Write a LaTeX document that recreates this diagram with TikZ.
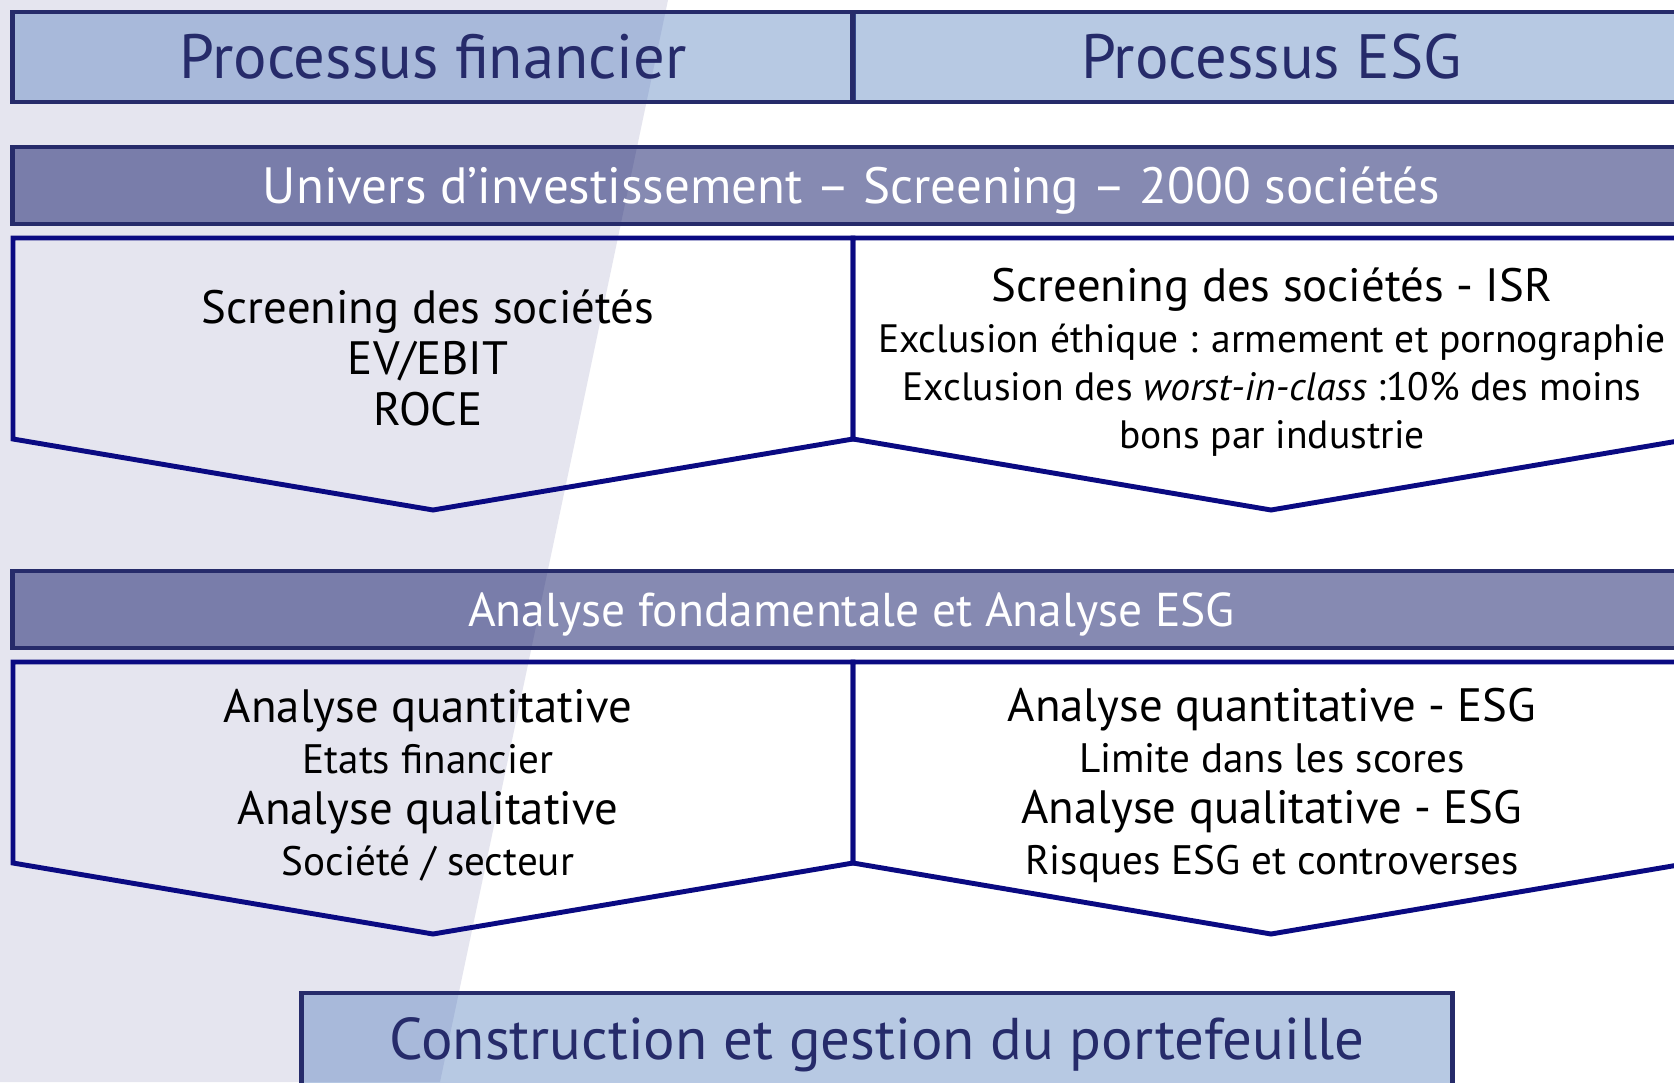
\documentclass[tikz,border=0pt]{standalone}
\usepackage{fontspec}
\setmainfont{PT Sans}

\definecolor{bandLavender}{HTML}{E5E5EF}
\definecolor{headFill}{HTML}{4D78BB}
\definecolor{barFill}{HTML}{0F1767}
\definecolor{headLine}{HTML}{262B6A}
\definecolor{chevLine}{HTML}{0A0A82}

\begin{document}
\begin{tikzpicture}
[x=0.01cm,y=-0.01cm,
  headDecorate/.style={shape=rectangle,inner sep=0pt,draw=headLine,line width=1.4pt,
    fill=headFill,fill opacity=0.4,text opacity=1,text=headLine,
    font=\fontsize{17.8}{20}\selectfont},%
  barDecorate/.style={shape=rectangle,inner sep=0pt,draw=headLine,line width=1.2pt,
    fill=barFill,fill opacity=0.5,text opacity=1,text=white,text depth=0pt},%
  chevDecorate/.style={draw=chevLine,line width=1.4pt,line join=miter},%
  textDecorate/.style={align=center,inner sep=0pt,text=black,
    font=\fontsize{13.3}{14.5}\selectfont},%
  smallText/.style={font=\fontsize{11.25}{13.6}\selectfont}]
\useasboundingbox (0,0) rectangle (1674,1082);
\clip (0,0) rectangle (1674,1082);
\fill[white] (0,0) rectangle (1674,1082);
%% background band
\fill[bandLavender] (0,0) -- (668,0) -- (440,1082) -- (0,1082) -- cycle;
%% header boxes
\foreach \nodename/\x/\y/\w/\txt in {finHead/433/57/8.40/Processus financier,
  esgHead/1271.5/57/8.37/Processus ESG}
{
  \node (\nodename) at (\x,\y) [headDecorate,minimum width=\w cm,minimum height=0.9cm] {\txt};
}
%% bars
\foreach \nodename/\y/\sz/\txt in {univBar/185.5/14.5/Univers d’investissement – Screening – 2000 sociétés,
  anaBar/609.5/13.5/Analyse fondamentale et Analyse ESG}
{
  \node (\nodename) at (851.5,\y) [barDecorate,minimum width=16.77cm,minimum height=0.77cm,
    font=\fontsize{\sz}{16}\selectfont] {\txt};
}
%% chevrons
\foreach \rowtop/\rowside/\rowtip in {238/439/510, 662/863/934}
{
  \draw[chevDecorate] (13,\rowtop) -- (853,\rowtop) -- (853,\rowside) -- (433,\rowtip) -- (13,\rowside) -- cycle;
  \draw[chevDecorate] (853,\rowtop) -- (1690,\rowtop) -- (1690,\rowside) -- (1271,\rowtip) -- (853,\rowside) -- cycle;
}
%% chevron texts
\node (scrFin) at (428,358) [textDecorate] {Screening des sociétés\\EV/EBIT\\ROCE};
\node (scrEsg) at (1272,362) [textDecorate,smallText]
  {{\fontsize{13.3}{14.5}\selectfont Screening des sociétés - ISR}\\[1pt]
   Exclusion éthique : armement et pornographie\\
   Exclusion des \textit{worst-in-class} :10\% des moins\\
   bons par industrie};
\node (anaFin) at (428,785) [textDecorate]
  {Analyse quantitative\\{\fontsize{11.7}{13.6}\selectfont Etats financier}\\
   Analyse qualitative\\{\fontsize{11.7}{13.6}\selectfont Société / secteur}};
\node (anaEsg) at (1272,785) [textDecorate]
  {Analyse quantitative - ESG\\{\fontsize{11.7}{13.6}\selectfont Limite dans les scores}\\
   Analyse qualitative - ESG\\{\fontsize{11.7}{13.6}\selectfont Risques ESG et controverses}};
%% portfolio box
\node (portBox) at (877,1040.5) [headDecorate,minimum width=11.5cm,minimum height=0.95cm,
  text depth=1pt,font=\fontsize{16.75}{19}\selectfont] {Construction et gestion du portefeuille};
\end{tikzpicture}
\end{document}
